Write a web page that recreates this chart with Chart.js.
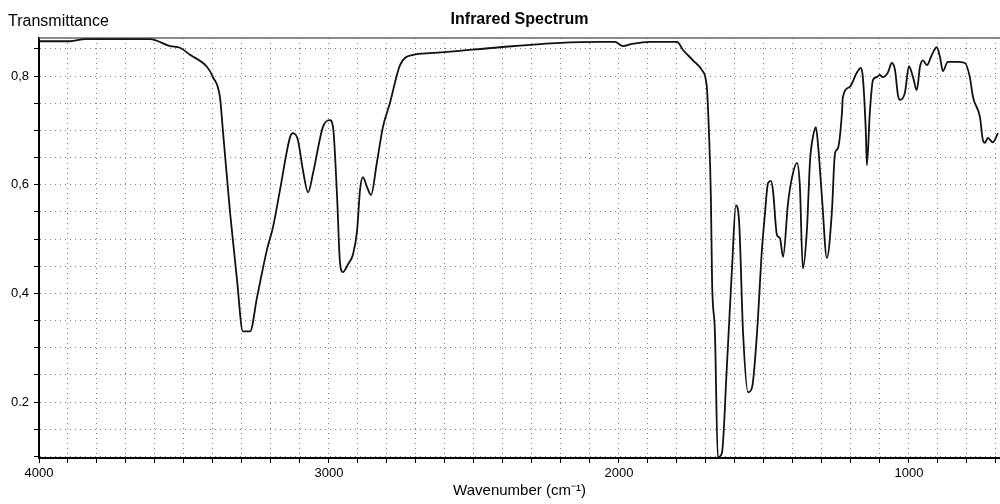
<!DOCTYPE html>
<html>
<head>
<meta charset="utf-8">
<script src="https://cdn.jsdelivr.net/npm/chart.js@4.4.1/dist/chart.umd.min.js"></script>
<style>
  html, body { margin: 0; padding: 0; background: #fff; }
  #wrap { width: 1000px; height: 504px; }
</style>
</head>
<body>
<div id="wrap"><canvas id="myChart"></canvas></div>
<script>
// spectrum (cm-1, transmittance)
const wavenumbers = [4000, 3893, 3841, 3617, 3548, 3514, 3479, 3421, 3400, 3376, 3366, 3341, 3317, 3297, 3272, 3248,
  3214, 3193, 3169, 3134, 3124, 3107, 3090, 3072, 3055, 3021, 2997, 2986, 2972, 2962, 2952, 2934, 2917, 2903, 2893,
  2883, 2869, 2855, 2835, 2814, 2790, 2755, 2710, 2652, 2410, 2203, 2066, 2014, 1986, 1955, 1893, 1800, 1779, 1745,
  1714, 1697, 1690, 1683, 1679, 1669, 1659, 1645, 1628, 1610, 1597, 1586, 1572, 1555, 1541, 1524, 1507, 1497, 1486,
  1476, 1469, 1455, 1445, 1434, 1417, 1403, 1386, 1376, 1366, 1352, 1341, 1331, 1321, 1314, 1300, 1283, 1266, 1255,
  1245, 1231, 1228, 1204, 1180, 1166, 1159, 1149, 1145, 1135, 1124, 1111, 1100, 1090, 1073, 1059, 1048, 1038, 1031,
  1014, 1000, 986, 973, 962, 952, 938, 921, 904, 893, 883, 866, 835, 807, 790, 779, 755, 745, 738, 728, 711, 693];
const transmittance = [0.864, 0.864, 0.868, 0.868, 0.855, 0.852, 0.839, 0.817, 0.798, 0.761, 0.701, 0.548, 0.424, 0.330, 0.330, 0.393,
  0.480, 0.522, 0.590, 0.688, 0.695, 0.682, 0.627, 0.586, 0.621, 0.706, 0.719, 0.706, 0.577, 0.456, 0.439, 0.454, 0.472, 0.516, 0.590,
  0.614, 0.596, 0.581, 0.640, 0.706, 0.750, 0.820, 0.839, 0.842, 0.853, 0.861, 0.863, 0.863, 0.855, 0.859, 0.863, 0.863, 0.848, 0.829,
  0.811, 0.780, 0.701, 0.577, 0.424, 0.327, 0.098, 0.106, 0.264, 0.448, 0.562, 0.535, 0.327, 0.218, 0.227, 0.327, 0.480, 0.544, 0.603,
  0.607, 0.590, 0.507, 0.502, 0.467, 0.566, 0.614, 0.640, 0.596, 0.446, 0.516, 0.645, 0.688, 0.706, 0.677, 0.577, 0.465, 0.548, 0.658,
  0.667, 0.732, 0.761, 0.780, 0.806, 0.815, 0.798, 0.701, 0.636, 0.732, 0.793, 0.798, 0.802, 0.798, 0.806, 0.824, 0.811, 0.765, 0.756,
  0.769, 0.818, 0.798, 0.774, 0.817, 0.829, 0.820, 0.839, 0.853, 0.835, 0.809, 0.826, 0.826, 0.824, 0.798, 0.761, 0.724, 0.682, 0.677, 0.686, 0.678, 0.695];

// tick labels
const xTickValues = [4000, 3000, 2000, 1000];
const xTickLabels = ['4000', '3000', '2000', '1000'];
const yTickValues = [0.2, 0.4, 0.6, 0.8];
const yTickLabels = ['0.2', '0,4', '0,6', '0,8'];

const chartTitle = 'Infrared Spectrum';
const yTitle = 'Transmittance';
const xTitle = 'Wavenumber (cm\u207B\u00B9)';

const fontFamily = '"Liberation Sans", Arial, Helvetica, sans-serif';

function labelFor(value, values, labels) {
  for (let i = 0; i < values.length; i++) {
    if (Math.abs(value - values[i]) < 1e-6) return labels[i];
  }
  return '';
}

const textPlugin = {
  id: 'texts',
  beforeDatasetsDraw(chart) {
    const ctx = chart.ctx;
    const a = chart.chartArea;
    ctx.save();
    ctx.strokeStyle = '#666';
    ctx.lineWidth = 1.5;
    ctx.beginPath();
    ctx.moveTo(a.left, a.top);
    ctx.lineTo(a.right, a.top);
    ctx.stroke();
    ctx.restore();
  },
  afterDraw(chart) {
    const ctx = chart.ctx;
    const a = chart.chartArea;
    ctx.save();
    ctx.fillStyle = '#000';
    ctx.textBaseline = 'middle';
    ctx.textAlign = 'center';
    ctx.font = 'bold 16px ' + fontFamily;
    ctx.fillText(chartTitle, (a.left + a.right) / 2, 20);
    ctx.textAlign = 'left';
    ctx.font = '16px ' + fontFamily;
    ctx.fillText(yTitle, 8, 22);
    ctx.restore();
  }
};

const gridOpts = {
  color: 'rgba(0,0,0,0.5)',
  lineWidth: 1,
  tickColor: '#000',
  tickLength: 5,
  tickWidth: 1
};

const ctx = document.getElementById('myChart').getContext('2d');
const myChart = new Chart(ctx, {
  type: 'line',
  data: {
    datasets: [{
      label: 'IR',
      data: wavenumbers.map((w, i) => ({ x: w, y: transmittance[i] })),
      borderColor: '#111',
      borderWidth: 1.8,
      pointRadius: 0,
      fill: false,
      cubicInterpolationMode: 'monotone'
    }]
  },
  options: {
    responsive: true,
    maintainAspectRatio: false,
    animation: false,
    layout: {
      padding: { top: 38, right: 0, bottom: 0, left: 0 }
    },
    plugins: {
      legend: { display: false },
      tooltip: { enabled: false }
    },
    scales: {
      x: {
        type: 'linear',
        reverse: true,
        min: 686,
        max: 4000,
        afterFit: s => { s.height = 46; },
        ticks: {
          stepSize: 100,
          includeBounds: false,
          autoSkip: false,
          maxRotation: 0,
          padding: 3,
          color: '#000',
          font: { family: fontFamily, size: 13 },
          callback: v => labelFor(v, xTickValues, xTickLabels)
        },
        grid: gridOpts,
        border: { color: '#000', width: 2, dash: [1, 4] },
        title: {
          display: true,
          text: xTitle,
          color: '#000',
          font: { family: fontFamily, size: 15 },
          padding: { top: 0, bottom: 4 }
        }
      },
      y: {
        min: 0.097,
        max: 0.87,
        afterFit: s => { s.width = 39; },
        ticks: {
          stepSize: 0.05,
          includeBounds: false,
          autoSkip: false,
          padding: 5,
          color: '#000',
          font: { family: fontFamily, size: 13 },
          callback: v => labelFor(v, yTickValues, yTickLabels)
        },
        grid: gridOpts,
        border: { color: '#000', width: 2, dash: [1, 4] }
      }
    }
  },
  plugins: [textPlugin]
});
</script>
</body>
</html>
